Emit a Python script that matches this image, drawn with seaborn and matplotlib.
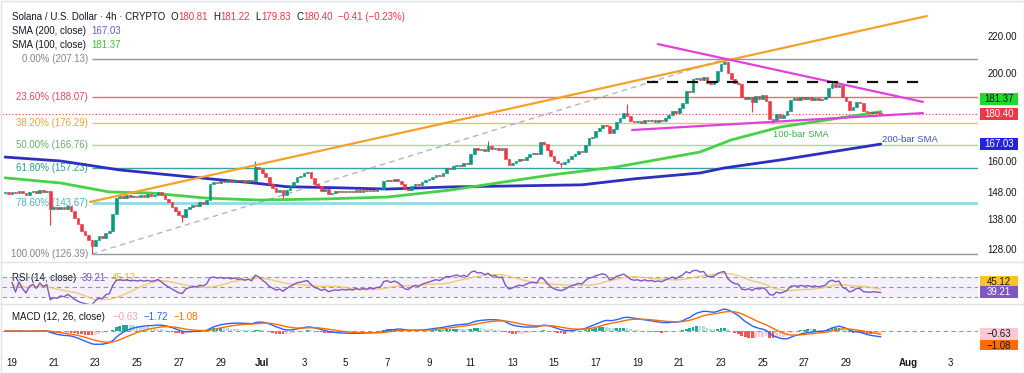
import pandas as pd
import matplotlib
matplotlib.use("Agg")
import matplotlib.pyplot as plt
import matplotlib.dates as mdates
from matplotlib.patches import Rectangle
from matplotlib.lines import Line2D
from matplotlib.ticker import FormatStrFormatter, NullLocator
from matplotlib.transforms import Bbox
import seaborn as sns

W, H = 1024, 373

# ---- SOL/USD 4h candles, Jun 18 16:00 -> Jul 30 16:00 ----
first_open = 147.6
closes = [
    147.8, 147.2,                                   # Jun 18
    148.0, 147.4, 148.3, 147.6, 146.9, 147.8,       # Jun 19
    148.2, 147.5, 148.6, 147.9, 148.4, 141.5,       # Jun 20
    142.2, 141.6, 142.4, 141.8, 142.6, 141.0,       # Jun 21
    138.5, 136.2, 134.0, 132.5, 130.8, 129.0,       # Jun 22
    131.0, 132.2, 131.5, 133.4, 134.0, 139.8,       # Jun 23
    145.5, 146.3, 145.8, 146.6, 145.9, 146.4,       # Jun 24
    146.0, 146.8, 146.2, 147.0, 146.5, 146.9,       # Jun 25
    148.0, 146.8, 145.2, 144.0, 142.5, 141.0,       # Jun 26
    139.5, 138.8, 141.5, 142.4, 143.2, 142.8,       # Jun 27
    144.0, 143.6, 145.0, 151.0, 151.8, 151.2,       # Jun 28
    152.0, 151.5, 152.3, 151.7, 152.6, 151.9,       # Jun 29
    152.4, 151.8, 152.6, 151.9, 157.6, 156.8,       # Jun 30
    155.0, 153.5, 151.0, 149.5, 147.8, 148.5,       # Jul 1
    146.6, 148.5, 150.2, 151.8, 153.5, 154.0,       # Jul 2
    155.0, 155.6, 153.2, 151.0, 150.0, 148.4,       # Jul 3
    149.2, 147.0, 147.6, 148.2, 147.8, 148.4,       # Jul 4
    147.9, 148.3, 147.7, 148.6, 148.0, 148.5,       # Jul 5
    148.1, 148.7, 148.3, 148.9, 149.0, 152.2,       # Jul 6
    152.6, 151.9, 152.8, 152.2, 151.0, 149.2,       # Jul 7
    148.7, 150.0, 150.8, 150.4, 151.5, 152.3,       # Jul 8
    152.8, 153.6, 154.3, 154.0, 155.2, 157.0,       # Jul 9
    156.8, 157.8, 158.5, 158.0, 159.0, 158.6,       # Jul 10
    163.0, 165.2, 164.4, 165.0, 164.2, 166.0,       # Jul 11
    164.8, 165.5, 164.6, 165.2, 161.0, 158.2,       # Jul 12
    159.0, 160.2, 161.0, 160.6, 161.8, 162.9,       # Jul 13
    163.2, 162.8, 167.8, 167.0, 164.5, 162.0,       # Jul 14
    160.2, 159.2, 158.6, 159.4, 160.8, 162.0,       # Jul 15
    162.8, 164.0, 163.6, 166.5, 169.5, 170.2,       # Jul 16
    172.5, 174.0, 175.5, 174.8, 172.0, 173.5,       # Jul 17
    176.8, 178.5, 180.6, 179.2, 177.3, 176.6,       # Jul 18
    177.2, 176.4, 177.6, 176.9, 177.5, 176.8,       # Jul 19
    177.4, 177.0, 178.5, 179.8, 181.5, 180.6,       # Jul 20
    183.0, 185.2, 191.2, 190.4, 196.8, 197.6,       # Jul 21
    196.5, 198.2, 195.0, 194.6, 195.8, 201.0,       # Jul 22
    204.5, 205.8, 200.2, 197.0, 195.0, 194.4,       # Jul 23
    188.0, 187.2, 188.4, 186.0, 188.6, 187.4,       # Jul 24
    189.0, 186.5, 178.2, 177.3, 180.5, 178.6,       # Jul 25
    179.8, 181.6, 186.8, 187.6, 187.0, 188.2,       # Jul 26
    187.3, 188.0, 186.9, 187.8, 186.6, 187.5,       # Jul 27
    188.2, 192.5, 194.5, 193.2, 194.0, 188.0,       # Jul 28
    186.5, 182.2, 183.5, 186.0, 185.6, 181.7,       # Jul 29
    181.2, 180.9, 181.3, 180.81, 180.40,            # Jul 30
]
# visible wicks (candle index -> price)
wick_high = {72: 160.2, 139: 168.3, 179: 185.0, 207: 207.13, 238: 196.2, 252: 181.22}
wick_low = {13: 136.0, 25: 126.39, 51: 137.0, 80: 145.8, 160: 157.5, 215: 181.0, 221: 176.2, 252: 179.83}

sma200_time = ["2024-06-18 16:00", "2024-06-21 08:00", "2024-06-24 04:00", "2024-06-29 00:00",
               "2024-06-30 12:00", "2024-07-02 04:00", "2024-07-04 12:00", "2024-07-07 00:00",
               "2024-07-10 00:00", "2024-07-16 08:00", "2024-07-18 20:00", "2024-07-22 00:00",
               "2024-07-23 04:00", "2024-07-25 20:00", "2024-07-30 16:00"]
sma200 = [161.6, 160.0, 156.4, 152.5, 151.4, 149.9, 149.5, 149.0,
          149.8, 150.6, 152.9, 155.2, 157.2, 160.4, 167.03]

sma100_time = ["2024-06-18 16:00", "2024-06-21 08:00", "2024-06-23 16:00", "2024-06-25 16:00",
               "2024-06-28 08:00", "2024-06-30 20:00", "2024-07-04 00:00", "2024-07-07 00:00",
               "2024-07-10 00:00", "2024-07-14 20:00", "2024-07-18 00:00", "2024-07-22 00:00",
               "2024-07-23 12:00", "2024-07-25 20:00", "2024-07-29 00:00", "2024-07-30 16:00"]
sma100 = [153.3, 151.3, 147.9, 147.5, 145.6, 144.9, 145.3, 146.0,
          148.6, 154.4, 157.6, 163.7, 168.8, 174.4, 178.9, 181.37]

fib_pct = [0.0, 23.6, 38.2, 50.0, 61.8, 78.6, 100.0]
fib_price = [207.13, 188.07, 176.29, 166.76, 157.23, 143.67, 126.39]
fib_line_color = ["#9598a1", "#f06a72", "#f2c062", "#a5d6a7", "#3aa39a", "#8fd9e6", "#9598a1"]
fib_text_color = ["#808590", "#e04a55", "#e8a33d", "#6aad6a", "#2a9d8f", "#45b5c6", "#808590"]

orange_line = (["2024-06-22 17:45", "2024-08-01 21:00"], [144.2, 231.2])
pink_upper = (["2024-07-19 23:30", "2024-08-01 16:30"], [215.3, 185.9])
pink_lower = (["2024-07-18 17:45", "2024-08-01 16:30"], [173.1, 180.7])
resistance = (["2024-07-19 11:00", "2024-08-01 13:00"], [195.5, 195.5])

tick_dates = ["2024-06-19", "2024-06-21", "2024-06-23", "2024-06-25", "2024-06-27", "2024-06-29",
              "2024-07-01", "2024-07-03", "2024-07-05", "2024-07-07", "2024-07-09", "2024-07-11",
              "2024-07-13", "2024-07-15", "2024-07-17", "2024-07-19", "2024-07-21", "2024-07-23",
              "2024-07-25", "2024-07-27", "2024-07-29", "2024-08-01", "2024-08-03"]
tick_labels = ["19", "21", "23", "25", "27", "29", "Jul", "3", "5", "7", "9", "11", "13", "15",
               "17", "19", "21", "23", "25", "27", "29", "Aug", "3"]

UP, DOWN, DARK = "#089981", "#f23645", "#131722"

sns.set_theme(style="white")
plt.rcParams["font.family"] = ["Liberation Sans", "DejaVu Sans"]


def dn(s):
    return mdates.date2num(pd.to_datetime(s))


times = pd.date_range("2024-06-18 16:00", periods=len(closes), freq="4h")
df = pd.DataFrame({"x": mdates.date2num(times), "close": closes})
df["open"] = [first_open] + closes[:-1]
df["body_lo"] = df[["open", "close"]].min(axis=1)
df["high"] = df[["open", "close"]].max(axis=1)
df["low"] = df["body_lo"]
for i, v in wick_high.items():
    df.loc[i, "high"] = v
for i, v in wick_low.items():
    df.loc[i, "low"] = v
col = [UP if c >= o else DOWN for o, c in zip(df.open, df.close)]

# indicators from the closes
delta = df.close.diff()
gain = delta.clip(lower=0).ewm(alpha=1 / 14, adjust=True).mean()
loss = (-delta.clip(upper=0)).ewm(alpha=1 / 14, adjust=True).mean()
rsi = 100 - 100 / (1 + gain / loss)
rsi[:2] = float("nan")
rsi_ma = rsi.rolling(14, min_periods=1).mean()
macd = df.close.ewm(span=12, adjust=False).mean() - df.close.ewm(span=26, adjust=False).mean()
signal = macd.ewm(span=9, adjust=False).mean()
hist = macd - signal
hist_col = []
prev = 0
for h in hist:
    if h >= 0:
        hist_col.append("#26a69a" if h >= prev else "#b2dfdb")
    else:
        hist_col.append("#ff5252" if h <= prev else "#ffcdd2")
    prev = h

fig = plt.figure(figsize=(W / 100, H / 100), dpi=100)
fig.patch.set_facecolor("white")
L, R = 2 / W, 978 / W
ax = fig.add_axes([L, 1 - 262 / H, R - L, 261 / H])
ax_rsi = fig.add_axes([L, 1 - 304 / H, R - L, 42 / H])
ax_macd = fig.add_axes([L, 1 - 350 / H, R - L, 46 / H])

x0 = dn("2024-06-19")
xmin, xmax = x0 - 0.48, x0 + 46.33

# ---- main price panel ----
ax.set_yscale("log")
ax.set_ylim(123.8, 240.2)
ax.set_xlim(xmin, xmax)

fib_start = df.x[25]
for pct, p, lc, tc in zip(fib_pct, fib_price, fib_line_color, fib_text_color):
    ax.hlines(p, fib_start, xmax, color=lc, lw=2.0 if pct == 78.6 else 1.0, zorder=2)
    ax.annotate(f"{pct:.2f}% ({p:.2f})", xy=(fib_start, p), xytext=(-3, 0),
                textcoords="offset points", ha="right", va="center", color=tc,
                fontsize=7, zorder=3, annotation_clip=False)

ax.plot([df.x[25], df.x[207]], [126.39, 207.13], color="#b2b5be", lw=1, ls=(0, (4, 3)), zorder=2)
ax.axhline(180.40, color=DOWN, lw=0.8, ls=(0, (1, 2)), zorder=3)

sns.lineplot(x=dn(sma200_time), y=sma200, ax=ax, color="#2f2fbf", lw=2, zorder=3)
sns.lineplot(x=dn(sma100_time), y=sma100, ax=ax, color="#46d246", lw=2, zorder=3)

ax.vlines(df.x, df.low, df.high, colors=col, lw=0.8, zorder=4)
ax.bar(df.x, (df.close - df.open).abs(), bottom=df.body_lo,
       width=0.13, color=col, edgecolor=col, lw=0.4, zorder=5)

ax.plot(dn(orange_line[0]), orange_line[1], color="#f5a02a", lw=1.6, zorder=6)
ax.plot(dn(pink_upper[0]), pink_upper[1], color="#e040e0", lw=1.6, zorder=6)
ax.plot(dn(pink_lower[0]), pink_lower[1], color="#e040e0", lw=1.6, zorder=6)
ax.plot(dn(resistance[0]), resistance[1], color="#111111", lw=1.6, ls=(0, (5, 4)), zorder=6)

ax.text(dn("2024-07-26 20:00"), 171.3, "100-bar SMA", color="#3cb043", fontsize=6.8,
        ha="center", va="center", zorder=7)
ax.text(dn("2024-08-01 02:00"), 168.8, "200-bar SMA", color="#3a4fd0", fontsize=6.8,
        ha="center", va="center", zorder=7)

ax.yaxis.tick_right()
ax.set_yticks([128, 138, 148, 160, 200, 220])
ax.yaxis.set_major_formatter(FormatStrFormatter("%.2f"))
ax.yaxis.set_minor_locator(NullLocator())
ax.tick_params(axis="y", length=0, pad=7, labelsize=7, labelcolor=DARK)
ax.set_xticks([])

# ---- RSI panel ----
ax_rsi.axhspan(30, 70, color="#7e57c2", alpha=0.08, lw=0)
for lvl in (70, 50, 30):
    ax_rsi.axhline(lvl, color="#9598a1", lw=0.8, ls=(0, (4, 3)))
sns.lineplot(x=df.x, y=rsi_ma, ax=ax_rsi, color="#f2c45a", lw=1, alpha=0.85)
sns.lineplot(x=df.x, y=rsi, ax=ax_rsi, color="#7e57c2", lw=1)
ax_rsi.set_ylim(16, 100)
ax_rsi.set_xlim(xmin, xmax)
ax_rsi.set_xticks([])
ax_rsi.set_yticks([])

# ---- MACD panel ----
ax_macd.bar(df.x, hist, width=0.13, color=hist_col, lw=0)
ax_macd.axhline(0, color="#9598a1", lw=0.8, ls=(0, (4, 3)))
sns.lineplot(x=df.x, y=macd, ax=ax_macd, color="#2962ff", lw=1)
sns.lineplot(x=df.x, y=signal, ax=ax_macd, color="#ff6d00", lw=1)
top = max(macd.max(), signal.max()) * 27 / 22
ax_macd.set_ylim(-top * 19 / 27, top)
ax_macd.set_xlim(xmin, xmax)
ax_macd.set_yticks([])
ax_macd.set_xticks(dn(tick_dates))
ax_macd.set_xticklabels(tick_labels)
ax_macd.tick_params(axis="x", length=0, pad=6, labelsize=7, labelcolor=DARK)
for lbl in ax_macd.get_xticklabels():
    if lbl.get_text() in ("Jul", "Aug"):
        lbl.set_fontweight("bold")

for a in (ax, ax_rsi, ax_macd):
    for s in a.spines.values():
        s.set_visible(False)
    a.set_xlabel("")
    a.set_ylabel("")
    a.set_facecolor("none")

# panel separators and frame
for ypx in (262, 304):
    fig.add_artist(Line2D([0, 1], [1 - ypx / H] * 2, transform=fig.transFigure, color="#e0e3eb", lw=1))
fig.add_artist(Rectangle((0.5 / W, 0.5 / H), 1 - 1 / W, 1 - 1 / H, transform=fig.transFigure,
                         fill=False, ec="#e0e3eb", lw=1))


def rich(parts, x_px, y_px, size=7):
    t = ax.text(x_px / W, 1 - y_px / H, parts[0][0], color=parts[0][1], fontsize=size,
                transform=fig.transFigure, ha="left", va="center", zorder=20)
    for s, c, gap in parts[1:]:
        t = ax.annotate(s, xy=(1, 0.5), xycoords=t, xytext=(gap, 0), textcoords="offset points",
                        ha="left", va="center", color=c, fontsize=size, zorder=20,
                        annotation_clip=False)


rich([("Solana / U.S. Dollar · 4h · CRYPTO", DARK), ("O", DARK, 4), ("180.81", DOWN, 0),
      ("H", DARK, 4), ("181.22", DOWN, 0), ("L", DARK, 4), ("179.83", DOWN, 0),
      ("C", DARK, 4), ("180.40", DOWN, 0), ("\u22120.41 (\u22120.23%)", DOWN, 4)], 12, 16.5)
rich([("SMA (200, close)", DARK), ("167.03", "#5c5ce0", 4)], 12, 30.5)
rich([("SMA (100, close)", DARK), ("181.37", "#3cc43c", 4)], 12, 44.5)
rich([("RSI (14, close)", DARK), ("39.21", "#7e57c2", 4), ("45.12", "#e8b830", 4)], 12, 278)
rich([("MACD (12, 26, close)", DARK), ("\u22120.63", "#f4a6b4", 6), ("\u22121.72", "#2962ff", 4),
      ("\u22121.08", "#ff6d00", 4)], 12, 317)


def tag(y_px, label, bg, fg, clip=None):
    y = H - y_px
    r = Rectangle((980 / W, (y - 6) / H), 38 / W, 12 / H, transform=fig.transFigure,
                  fc=bg, ec="none", zorder=10)
    fig.add_artist(r)
    t = fig.text(999 / W, y / H, label, ha="center", va="center", color=fg, fontsize=7, zorder=11)
    if clip is not None:
        r.set_clip_box(clip)
        t.set_clip_box(clip)
        t.set_clip_on(True)


def px(a, value):
    return H - a.transData.transform((xmin, value))[1]


tag(px(ax, 181.37) - 13, "181.37", "#1fdc2c", DARK)
tag(px(ax, 180.40), "180.40", DOWN, "white")
tag(px(ax, 167.03), "167.03", "#2424e0", "white")
tag(px(ax_rsi, 39.21) - 10, "45.12", "#f7c325", DARK)
tag(px(ax_rsi, 39.21), "39.21", "#7e57c2", "white")
tag(334, "\u22120.63", "#fbc9d2", DARK)
tag(346, "\u22121.08", "#ff6d00", DARK, clip=Bbox.from_extents(978, H - 350, W, H - 304))

fig.savefig("out.png", dpi=100, facecolor="white")
